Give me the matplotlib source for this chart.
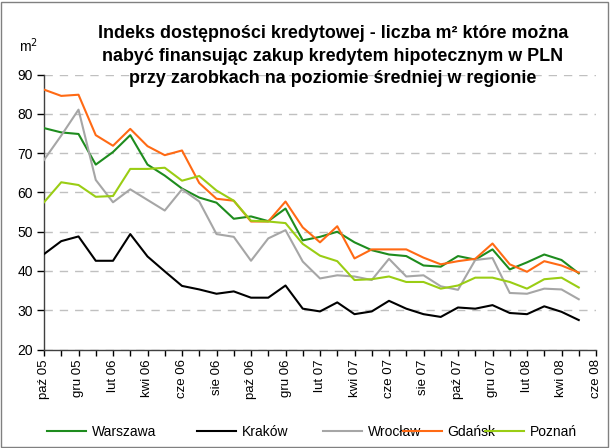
import numpy as np
import matplotlib
matplotlib.use("Agg")
import matplotlib.pyplot as plt
from matplotlib.patches import Rectangle

plt.rcParams['font.family'] = ['Liberation Sans', 'DejaVu Sans']

tick_labels = ["paź 05", "gru 05", "lut 06", "kwi 06", "cze 06", "sie 06", "paź 06",
               "gru 06", "lut 07", "kwi 07", "cze 07", "sie 07", "paź 07", "gru 07",
               "lut 08", "kwi 08", "cze 08"]

warszawa = [76.4, 75.3, 74.9, 67.1, 70.3, 74.6, 67.1, 64.3, 61.0, 58.7, 57.4, 53.3,
            53.9, 52.7, 55.9, 47.8, 48.7, 50.0, 47.3, 45.3, 44.2, 43.8, 41.4, 41.1,
            43.8, 42.9, 45.5, 40.4, 42.2, 44.2, 42.8, 39.4]
krakow = [44.3, 47.6, 48.8, 42.6, 42.6, 49.4, 43.7, 39.9, 36.2, 35.3, 34.2, 34.8,
          33.2, 33.2, 36.3, 30.4, 29.7, 32.0, 29.0, 29.7, 32.4, 30.4, 29.0, 28.3,
          30.7, 30.4, 31.3, 29.3, 29.0, 31.0, 29.6, 27.5]
wroclaw = [68.3, 74.5, 81.1, 63.2, 57.5, 60.8, 58.1, 55.4, 60.8, 57.7, 49.4, 48.7,
           42.6, 48.3, 50.4, 42.4, 38.1, 38.9, 38.6, 37.7, 43.1, 38.6, 38.9, 36.1,
           35.2, 42.8, 43.3, 34.4, 34.2, 35.5, 35.3, 32.8]
gdansk = [86.2, 84.6, 84.9, 74.6, 71.9, 76.2, 71.8, 69.5, 70.7, 62.4, 58.4, 57.9,
          52.6, 52.6, 57.7, 51.1, 47.3, 51.4, 43.2, 45.5, 45.5, 45.5, 43.4, 41.7,
          42.5, 43.1, 47.0, 41.7, 39.8, 42.5, 41.4, 39.6]
poznan = [57.5, 62.6, 61.9, 58.9, 59.1, 66.0, 66.0, 66.3, 63.0, 64.2, 60.5, 57.9,
          52.8, 52.6, 52.2, 46.9, 43.9, 42.5, 37.7, 37.9, 38.6, 37.2, 37.2, 35.5,
          36.3, 38.3, 38.3, 37.2, 35.5, 37.9, 38.3, 35.8]

series = [("Warszawa", warszawa, "#1E8C1E"),
          ("Kraków", krakow, "#000000"),
          ("Wrocław", wroclaw, "#A6A6A6"),
          ("Gdańsk", gdansk, "#FF6A14"),
          ("Poznań", poznan, "#9ACD14")]

fig = plt.figure(figsize=(6.10, 4.48), dpi=100)
ax = fig.add_axes([44/610, 1-349.5/448, (596-44)/610, (349.5-74.7)/448])

handles = []
for name, vals, col in series:
    x = np.arange(len(vals))
    h, = ax.plot(x, vals, color=col, lw=1.5, label=name, zorder=3)
    handles.append(h)

n_months = 2 * (len(tick_labels) - 1)
ax.set_xlim(0, n_months)
ax.set_ylim(20, 90)
ax.set_xticks(np.arange(0, n_months + 1, 2))
ax.set_xticklabels(tick_labels, rotation=90, fontsize=9.5)
ax.set_xticks(np.arange(0, n_months + 1, 1), minor=True)
ax.set_yticks(np.arange(20, 91, 10))
ax.tick_params(axis='y', labelsize=10, length=5, width=1, direction='out', pad=3)
ax.tick_params(axis='x', which='both', length=4, width=1, direction='out', pad=3)
ax.grid(axis='y', color='#C0C0C0', linestyle=(0, (6, 5)), linewidth=1)
ax.set_axisbelow(True)
for s in ['top', 'right']:
    ax.spines[s].set_visible(False)
for s in ['left', 'bottom']:
    ax.spines[s].set_color('#404040')
    ax.spines[s].set_linewidth(1)

title = ("Indeks dostępności kredytowej - liczba m² które można\n"
         "nabyć finansując zakup kredytem hipotecznym w PLN\n"
         "przy zarobkach na poziomie średniej w regionie")
fig.text(333/610, 1-25/448, title, ha='center', va='top', fontsize=12.9,
         fontweight='bold', linespacing=1.43)
fig.text(19/610, 1-52/448, "m$^2$", ha='left', va='baseline', fontsize=10)

leg_x = [42, 192, 318, 398, 480]
for h, lx in zip(handles, leg_x):
    fig.legend([h], [h.get_label()], loc='center left',
               bbox_to_anchor=(lx/610 - 0.012, 1-432/448), frameon=False,
               fontsize=10, handlelength=2.8, handletextpad=0.4)

fig.add_artist(Rectangle((1/610, 1/448), 607/610, 445/448, transform=fig.transFigure,
                         fill=False, edgecolor='#808080', linewidth=1))

fig.savefig("out.png", dpi=100)
